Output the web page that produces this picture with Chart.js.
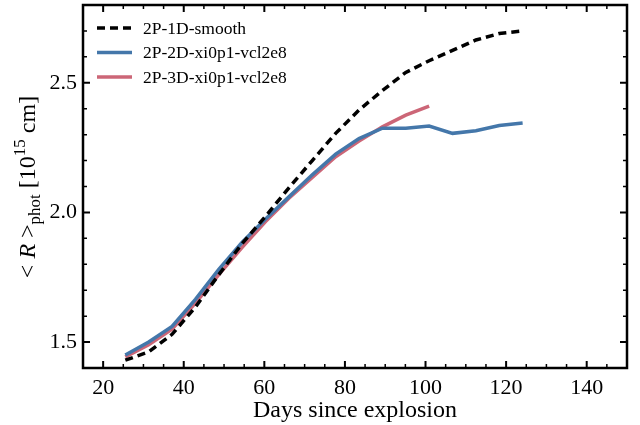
<!DOCTYPE html>
<html>
<head>
<meta charset="utf-8">
<script src="https://cdn.jsdelivr.net/npm/chart.js@4.4.0/dist/chart.umd.min.js"></script>
<style>
  html, body { margin: 0; padding: 0; background: #fff; }
  #wrap { width: 640px; height: 425px; }
</style>
</head>
<body>
<div id="wrap"><canvas id="radiusChart" width="640" height="425"></canvas></div>
<script>
// days since explosion (shared sampling of the three models)
const days = [25.5, 31.3, 37.1, 42.9, 48.7, 54.5, 60.3, 66.1, 71.9, 77.7, 83.5, 89.3, 95.1, 100.9, 106.7, 112.5, 118.3, 124.1];

// <R>_phot in 10^15 cm
const r1dSmooth = [1.430, 1.462, 1.530, 1.635, 1.760, 1.880, 1.985, 2.095, 2.200, 2.305, 2.395, 2.470, 2.540, 2.585, 2.625, 2.665, 2.690, 2.700];
const r2d = [1.450, 1.500, 1.560, 1.665, 1.780, 1.885, 1.975, 2.060, 2.145, 2.225, 2.285, 2.325, 2.325, 2.333, 2.305, 2.315, 2.335, 2.345];
const r3d = [1.443, 1.490, 1.550, 1.650, 1.760, 1.865, 1.965, 2.055, 2.135, 2.215, 2.275, 2.330, 2.375, 2.410];

const seriesNames = ['2P-1D-smooth', '2P-2D-xi0p1-vcl2e8', '2P-3D-xi0p1-vcl2e8'];

const xMajorTicks = [20, 40, 60, 80, 100, 120, 140];
const yMajorTicks = [1.5, 2.0, 2.5];

const serif = "'Liberation Serif', 'DejaVu Serif', serif";

function toPoints(xs, ys) {
  return ys.map((y, i) => ({ x: xs[i], y: y }));
}

// inward ticks on all four sides, legend and y title
const frameTicks = {
  id: 'frameTicks',
  afterDraw(chart) {
    const { ctx, chartArea: a, scales } = chart;
    ctx.save();
    ctx.strokeStyle = '#000';
    for (let v = 15; v <= 150; v += 5) {
      const px = scales.x.getPixelForValue(v);
      const major = xMajorTicks.includes(v);
      const len = major ? 7 : 4;
      ctx.lineWidth = major ? 2 : 1.5;
      ctx.beginPath();
      ctx.moveTo(px, a.bottom); ctx.lineTo(px, a.bottom - len);
      ctx.moveTo(px, a.top); ctx.lineTo(px, a.top + len);
      ctx.stroke();
    }
    for (let k = 14; k <= 28; k++) {
      const py = scales.y.getPixelForValue(k / 10);
      const major = k % 5 === 0;
      const len = major ? 7 : 4;
      ctx.lineWidth = major ? 2 : 1.5;
      ctx.beginPath();
      ctx.moveTo(a.left, py); ctx.lineTo(a.left + len, py);
      ctx.moveTo(a.right, py); ctx.lineTo(a.right - len, py);
      ctx.stroke();
    }
    // frame
    ctx.lineWidth = 2.5;
    ctx.strokeRect(a.left, a.top, a.right - a.left, a.bottom - a.top);

    // legend, top left inside the axes
    const ds = chart.data.datasets;
    ctx.font = '17.5px ' + serif;
    ctx.textBaseline = 'middle';
    ctx.fillStyle = '#000';
    ds.forEach((d, i) => {
      const y = 28 + i * 24.5;
      ctx.strokeStyle = d.borderColor;
      ctx.lineWidth = d.borderWidth;
      ctx.setLineDash(d.borderDash || []);
      ctx.beginPath();
      ctx.moveTo(97, y); ctx.lineTo(132, y);
      ctx.stroke();
      ctx.setLineDash([]);
      ctx.fillText(d.label, 143, y + 1);
    });

    // y axis title: < R >_phot [10^15 cm]
    ctx.translate(27, 187);
    ctx.rotate(-Math.PI / 2);
    ctx.textBaseline = 'alphabetic';
    const parts = [
      { t: '< ', f: '24px ' + serif, dy: 0 },
      { t: 'R', f: 'italic 24px ' + serif, dy: 0 },
      { t: ' >', f: '24px ' + serif, dy: 0 },
      { t: 'phot', f: '17px ' + serif, dy: 5 },
      { t: ' [10', f: '24px ' + serif, dy: 0 },
      { t: '15', f: '17px ' + serif, dy: -10 },
      { t: ' cm]', f: '24px ' + serif, dy: 0 }
    ];
    let total = 0;
    parts.forEach(p => { ctx.font = p.f; p.w = ctx.measureText(p.t).width; total += p.w; });
    let cx = -total / 2;
    parts.forEach(p => {
      ctx.font = p.f;
      ctx.fillText(p.t, cx, 8 + p.dy);
      cx += p.w;
    });
    ctx.restore();
  }
};

new Chart(document.getElementById('radiusChart').getContext('2d'), {
  type: 'line',
  data: {
    datasets: [
      {
        label: seriesNames[0],
        data: toPoints(days, r1dSmooth),
        borderColor: '#000000',
        borderWidth: 3.5,
        borderDash: [8, 5]
      },
      {
        label: seriesNames[1],
        data: toPoints(days, r2d),
        borderColor: '#4477AA',
        borderWidth: 3.5
      },
      {
        label: seriesNames[2],
        data: toPoints(days, r3d),
        borderColor: '#CC6677',
        borderWidth: 3.5
      }
    ]
  },
  options: {
    responsive: false,
    animation: false,
    events: [],
    elements: { point: { radius: 0 }, line: { tension: 0, borderCapStyle: 'butt' } },
    layout: { padding: { left: 0, right: 13, top: 5, bottom: 0 } },
    plugins: { legend: { display: false }, tooltip: { enabled: false } },
    scales: {
      x: {
        type: 'linear',
        min: 15,
        max: 150,
        grid: { display: false, drawTicks: false },
        border: { display: false },
        ticks: {
          stepSize: 5,
          autoSkip: false,
          maxRotation: 0,
          padding: 7,
          color: '#000',
          font: { family: serif, size: 22 },
          callback: v => (xMajorTicks.includes(v) ? String(v) : '')
        },
        title: {
          display: true,
          text: 'Days since explosion',
          color: '#000',
          font: { family: serif, size: 24 },
          padding: { top: 0, bottom: 0 }
        },
        afterFit: s => { s.height = 57; s.paddingLeft = 0; s.paddingRight = 0; }
      },
      y: {
        type: 'linear',
        min: 1.4,
        max: 2.8,
        grid: { display: false, drawTicks: false },
        border: { display: false },
        ticks: {
          stepSize: 0.1,
          autoSkip: false,
          padding: 6,
          color: '#000',
          font: { family: serif, size: 22 },
          callback: v => (yMajorTicks.some(t => Math.abs(t - v) < 1e-6) ? v.toFixed(1) : '')
        },
        afterFit: s => { s.width = 83; s.paddingTop = 0; s.paddingBottom = 0; }
      }
    }
  },
  plugins: [frameTicks]
});
</script>
</body>
</html>
